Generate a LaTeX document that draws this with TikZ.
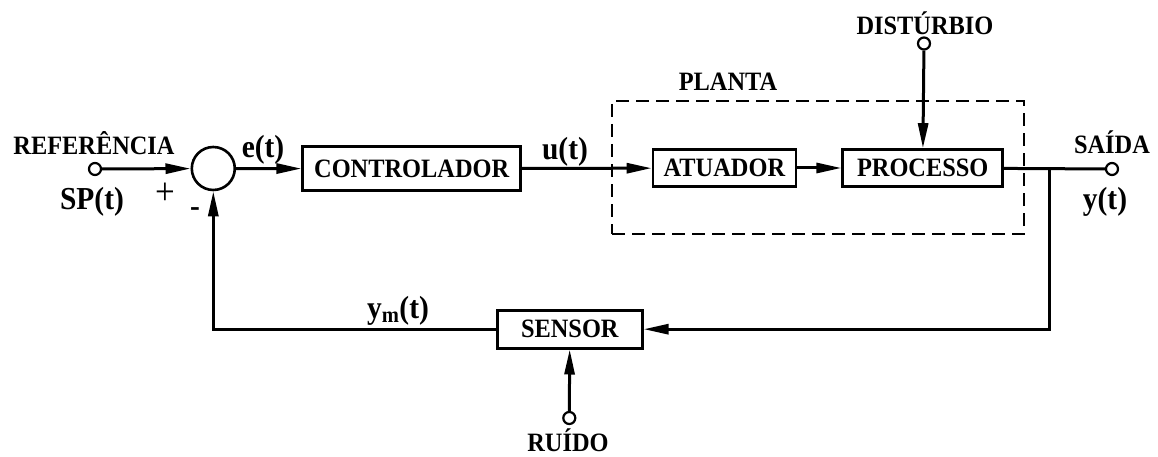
\documentclass[tikz,border=0pt]{standalone}
\usepackage{fontspec}
\setmainfont{Liberation Serif}[FakeStretch=0.92]
\usepackage{tikz}
\usetikzlibrary{arrows.meta, positioning}

\begin{document}
\begin{tikzpicture}[
    x=1pt, y=-1pt,
    block/.style={
        draw,
        line width=2.6pt,
        minimum height=37pt,
        inner sep=0pt,
        align=center,
        font=\bfseries\fontsize{26.5}{28}\selectfont
    },
    term/.style={draw, circle, fill=white, line width=2.2pt, minimum size=12pt, inner sep=0pt},
    tag/.style={font=\bfseries\fontsize{26.5}{28}\selectfont, inner sep=0pt},
    sig/.style={font=\bfseries\fontsize{32}{34}\selectfont, inner sep=0pt},
    arrow/.style={-{Triangle[length=25pt, width=10pt]}, line width=3pt},
    wire/.style={line width=3pt}
]
\useasboundingbox (0,0) rectangle (1158,457);

% plant frame
\node[draw, dashed, dash pattern=on 13pt off 7pt, line width=1.5pt,
      minimum width=412pt, minimum height=133pt] (plantbox) at (818,167.5) {};
\node[tag] (plantlabel) at (728,82) {PLANTA};

% blocks
\node[draw, circle, line width=2.6pt, minimum size=43pt, inner sep=0pt] (sum) at (213.3,168.5) {};
\node[block, minimum width=218pt, minimum height=44pt] (ctrl) at (411.7,168.7) {CONTROLADOR};
\node[block, minimum width=143pt] (act) at (724.4,168) {ATUADOR};
\node[block, minimum width=160pt] (proc) at (922.7,168) {PROCESSO};
\node[block, minimum width=145pt, minimum height=38pt] (sensor) at (569.8,329.2) {SENSOR};

% terminals
\node[term] (ref) at (95,169) {};
\node[term] (out) at (1112,169) {};
\node[term] (dist) at (924,43.5) {};
\node[term] (noise) at (569.3,418) {};
\coordinate (branch) at (1049.3,169);

% texts
\node[tag] (reflabel) at (94,143) {REFERÊNCIA};
\node[sig] (sp) at (92,202) {SP(t)};
\node[font=\fontsize{38}{40}\selectfont, inner sep=0pt] (plus) at (165,194) {+};
\node[sig] (minus) at (195,212) {-};
\node[sig] (err) at (263,150) {e(t)};
\node[sig] (ctrlout) at (565,152) {u(t)};
\node[tag] (distlabel) at (925,23) {DISTÚRBIO};
\node[tag] (outlabel) at (1112,142) {SAÍDA};
\node[sig] (yout) at (1105,202) {y(t)};
\node[sig] (ymeas) at (398,311) {y\textsubscript{m}(t)};
\node[tag] (noiselabel) at (568,440) {RUÍDO};

% connectors
\draw[arrow] (ref) -- (sum);
\draw[arrow] (sum) -- (ctrl);
\draw[arrow] (ctrl) -- (act);
\draw[arrow] (act) -- (proc);
\draw[arrow] (dist) -- (proc);
\draw[wire] (proc) -- (out);
\draw[arrow] (branch) |- (sensor);
\draw[arrow] (sensor) -| (sum);
\draw[arrow] (noise) -- (sensor);
\end{tikzpicture}
\end{document}
